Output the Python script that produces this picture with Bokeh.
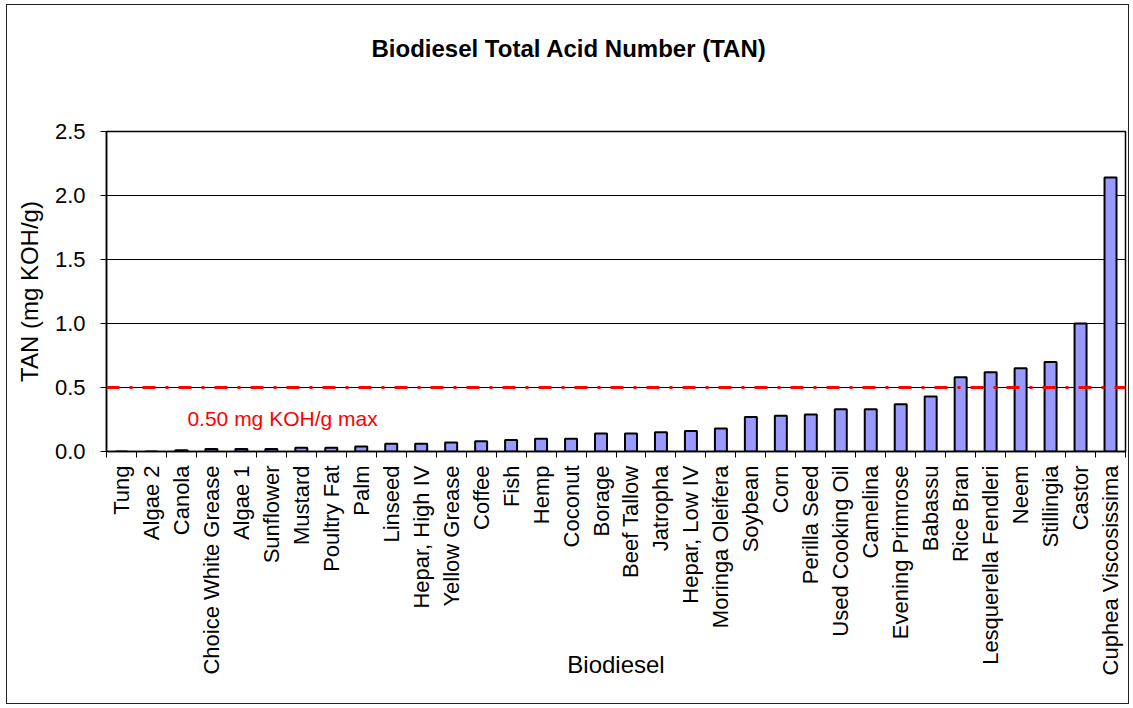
import math
from bokeh.plotting import figure
from bokeh.models import (Range1d, FixedTicker, Span, Label, Title, LinearAxis,
                          NumeralTickFormatter)
from bokeh.embed import file_html
from bokeh.resources import INLINE

# ---- data ----
names = ["Tung", "Algae 2", "Canola", "Choice White Grease", "Algae 1", "Sunflower",
         "Mustard", "Poultry Fat", "Palm", "Linseed", "Hepar, High IV", "Yellow Grease",
         "Coffee", "Fish", "Hemp", "Coconut", "Borage", "Beef Tallow", "Jatropha",
         "Hepar, Low IV", "Moringa Oleifera", "Soybean", "Corn", "Perilla Seed",
         "Used Cooking Oil", "Camelina", "Evening Primrose", "Babassu", "Rice Bran",
         "Lesquerella Fendleri", "Neem", "Stillingia", "Castor", "Cuphea Viscosissima"]
tan = [0.0, 0.0, 0.01, 0.02, 0.02, 0.02, 0.03, 0.03, 0.04, 0.06, 0.06, 0.07,
       0.08, 0.09, 0.10, 0.10, 0.14, 0.14, 0.15, 0.16, 0.18, 0.27, 0.28, 0.29,
       0.33, 0.33, 0.37, 0.43, 0.58, 0.62, 0.65, 0.70, 1.00, 2.14]
y_ticks = [0.0, 0.5, 1.0, 1.5, 2.0, 2.5]
limit = 0.5
limit_label = "0.50 mg KOH/g max"
title_text = "Biodiesel Total Acid Number (TAN)"
x_title = "Biodiesel"
y_title = "TAN (mg KOH/g)"

FONT = "Liberation Sans"
n = len(names)
xs = [i + 0.5 for i in range(n)]

p = figure(width=1123, height=700, x_range=Range1d(0, n), y_range=Range1d(0, 2.5),
           output_backend="svg", toolbar_location=None,
           min_border_left=99, min_border_right=5, min_border_top=126,
           min_border_bottom=254)
p.styles = {"border": "1px solid #222", "margin-left": "6px", "margin-top": "4px"}
p.background_fill_color = "white"
p.border_fill_color = "white"
p.outline_line_color = "black"
p.outline_line_width = 1.5

# grid
p.xgrid.visible = False
p.ygrid.grid_line_color = "black"
p.ygrid.grid_line_width = 1
p.ygrid.ticker = FixedTicker(ticks=y_ticks)

# y axis
yax = p.yaxis[0]
yax.ticker = FixedTicker(ticks=y_ticks)
yax.formatter = NumeralTickFormatter(format="0.0")
yax.major_label_text_font = FONT
yax.major_label_text_font_size = "22px"
yax.major_label_text_color = "black"
yax.major_tick_out = 6
yax.major_tick_in = 0
yax.major_label_standoff = 15
yax.minor_tick_line_color = None
yax.axis_line_color = "black"
yax.axis_line_width = 1.5
yax.major_tick_line_color = "black"
yax.axis_label = y_title
yax.axis_label_text_font = FONT
yax.axis_label_text_font_size = "24px"
yax.axis_label_text_font_style = "normal"
yax.axis_label_text_color = "black"
yax.axis_label_standoff = 9

# x axis
xax = p.xaxis[0]
xax.ticker = FixedTicker(ticks=xs, minor_ticks=list(range(n + 1)))
xax.major_label_overrides = {x: nm for x, nm in zip(xs, names)}
xax.major_label_orientation = math.pi / 2
xax.major_label_text_font = FONT
xax.major_label_text_font_size = "22px"
xax.major_label_text_color = "black"
xax.major_label_standoff = 8
xax.major_tick_line_color = None
xax.minor_tick_line_color = "black"
xax.minor_tick_out = 6
xax.minor_tick_in = 0
xax.axis_line_color = "black"
xax.axis_line_width = 1.5
xax.axis_label = x_title
xax.axis_label_text_font = FONT
xax.axis_label_text_font_size = "24px"
xax.axis_label_text_font_style = "normal"
xax.axis_label_text_color = "black"
xax.axis_label_standoff = -27

# spacer between frame and title (invisible axis), then the title above it
mid = n / 2
spacer = LinearAxis(ticker=FixedTicker(ticks=[mid]), major_tick_out=70, major_tick_in=0,
                    major_label_overrides={mid: ""},
                    major_tick_line_color=None, minor_tick_line_color=None,
                    axis_line_color=None, major_label_text_font_size="1px",
                    major_label_text_color=None, major_label_standoff=0)
p.add_layout(spacer, "above")
p.add_layout(Title(text=title_text, text_font=FONT, text_font_size="24px",
                   text_font_style="bold", text_color="black", align="left",
                   offset=265, standoff=0, vertical_align="bottom"), "above")

# bars
p.vbar(x=xs, top=tan, width=0.4, bottom=0, fill_color="#9999FF",
       line_color="black", line_width=2)

# limit line
p.add_layout(Span(location=limit, dimension="width", line_color="red",
                  line_width=3, line_dash="13 10 3 10"))

p.add_layout(Label(x=2.70, y=0.258, text=limit_label, text_color="red",
                   text_font=FONT, text_font_size="21px",
                   text_baseline="alphabetic", text_align="left"))

open("out.html", "w").write(file_html(p, INLINE))
